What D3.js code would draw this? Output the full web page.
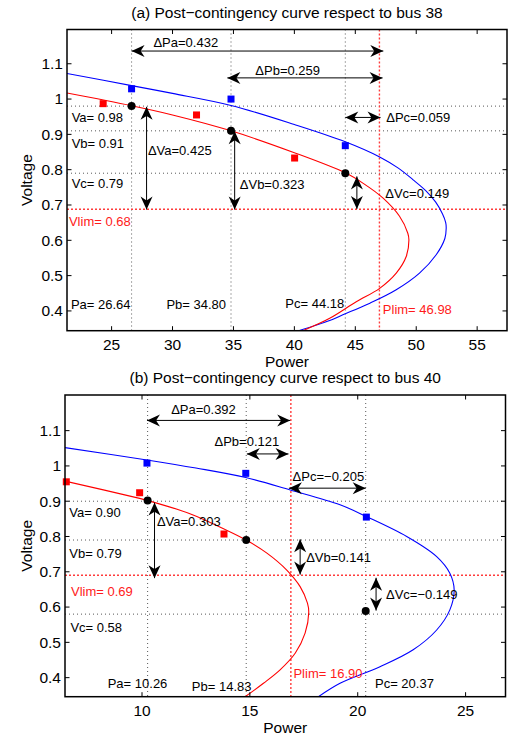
<!DOCTYPE html>
<html lang="en">
<head>
<meta charset="UTF-8">
<title>Post-contingency curves</title>
<script src="https://d3js.org/d3.v7.min.js"></script>
<style>
  body { margin: 0; background: #fff; }
  svg { display: block; font-family: "Liberation Sans", Arial, Helvetica, sans-serif; }
  .tick-label, .axis-title, .panel-title { font-size: 15.5px; fill: #000; }
  .note { font-size: 13px; fill: #000; }
  .note.lim { fill: #ff1a1a; }
</style>
</head>
<body>
<svg id="chart" width="514" height="735"></svg>
<script>
// ---------- shared ----------
const yTicks = [0.4, 0.5, 0.6, 0.7, 0.8, 0.9, 1, 1.1];

// ---------- panel (a): bus 38 ----------
const aTitle = '(a) Post\u2212contingency curve respect to bus 38';
const aXDomain = [21.34, 57.45];
const aYDomain = [0.344, 1.197];
const aXTicks = [25, 30, 35, 40, 45, 50, 55];
const aBlueCurve = [[21.34,1.0725],[26.64,1.038],[30,1.016],[34.8,0.982],[40,0.928],[44.18,0.879],[47.0,0.836],
  [48.5,0.805],[49.72,0.772],[50.8,0.74],[51.6,0.708],[52.15,0.675],[52.42,0.65],[52.46,0.634],[52.35,0.605],
  [51.64,0.559],[50.27,0.507],[48.36,0.460],[46.2,0.422],[43.98,0.389],[42.9,0.373],[40.35,0.344]];
const aRedCurve = [[21.34,1.017],[26.64,0.981],[30,0.955],[34.8,0.91],[40,0.848],[44.18,0.791],[45.62,0.762],
  [47.26,0.72],[48.63,0.668],[49.31,0.62],[49.4,0.601],[49.18,0.554],[48.36,0.507],[47.0,0.464],
  [45.08,0.426],[42.9,0.379],[40.7,0.344]];
const aBlueSquares = [[26.64,1.029],[34.8,1.0],[44.18,0.868]];
const aRedSquares = [[24.31,0.987],[31.97,0.955],[40.02,0.833]];
const aPoints = [[26.64,0.98],[34.8,0.91],[44.18,0.79]];
const aPLines = [26.64, 34.80, 44.18];
const aVLines = [0.98, 0.91, 0.79];
const aPlim = 46.98;
const aVlim = 0.688;
const aArrows = [
  [[26.64,1.136],[47.3,1.136]],
  [[34.5,1.060],[47.24,1.060]],
  [[44.18,0.948],[47.07,0.948]],
  [[27.87,0.978],[27.87,0.687]],
  [[35.1,0.909],[35.1,0.687]],
  [[45.13,0.781],[45.13,0.689]]
];
const aNotes = [
  { text: 'Va= 0.98', at: [21.72,0.947] },
  { text: 'Vb= 0.91', at: [21.72,0.874] },
  { text: 'Vc= 0.79', at: [21.72,0.760] },
  { text: 'Vlim= 0.68', at: [21.5,0.652], lim: true },
  { text: 'Pa= 26.64', at: [21.66,0.417] },
  { text: 'Pb= 34.80', at: [29.5,0.417] },
  { text: 'Pc= 44.18', at: [39.26,0.422] },
  { text: 'Plim= 46.98', at: [47.26,0.405], lim: true },
  { text: '\u0394Pa=0.432', at: [31.09,1.161], mid: true },
  { text: '\u0394Pb=0.259', at: [39.45,1.082], mid: true },
  { text: '\u0394Pc=0.059', at: [47.54,0.948] },
  { text: '\u0394Va=0.425', at: [27.98,0.855] },
  { text: '\u0394Vb=0.323', at: [35.52,0.757] },
  { text: '\u0394Vc=0.149', at: [47.46,0.732] }
];

// ---------- panel (b): bus 40 ----------
const bTitle = '(b) Post\u2212contingency curve respect to bus 40';
const bXDomain = [6.43, 26.85];
const bYDomain = [0.346, 1.201];
const bXTicks = [10, 15, 20, 25];
const bBlueCurve = [[6.43,1.052],[10.23,1.017],[12.5,0.994],[14.81,0.967],[16.87,0.932],[19.18,0.89],[20.42,0.856],
  [22.27,0.800],[23.66,0.743],[24.27,0.696],[24.47,0.649],[24.27,0.592],[23.66,0.535],[22.57,0.479],
  [21.03,0.431],[19.18,0.384],[18.18,0.346]];
const bRedCurve = [[6.43,0.957],[9.89,0.908],[10.26,0.902],[12.25,0.864],[13.78,0.822],[14.83,0.79],[15.79,0.753],
  [16.71,0.705],[17.33,0.658],[17.67,0.611],[17.73,0.585],[17.56,0.526],[17.1,0.469],[16.4,0.422],
  [15.63,0.384],[14.78,0.346]];
const bBlueSquares = [[10.23,1.008],[14.81,0.979],[20.40,0.855]];
const bRedSquares = [[6.49,0.955],[9.89,0.924],[13.8,0.807]];
const bPoints = [[10.26,0.902],[14.83,0.79],[20.37,0.589]];
const bPLines = [10.26, 14.83, 20.37];
const bVLines = [0.90, 0.79, 0.58];
const bPlim = 16.90;
const bVlim = 0.69;
const bArrows = [
  [[10.23,1.129],[16.87,1.129]],
  [[14.86,1.034],[16.79,1.034]],
  [[16.81,0.937],[20.37,0.937]],
  [[10.58,0.896],[10.58,0.682]],
  [[17.33,0.792],[17.33,0.692]],
  [[20.85,0.683],[20.85,0.590]]
];
const bNotes = [
  { text: 'Va= 0.90', at: [6.63,0.868] },
  { text: 'Vb= 0.79', at: [6.63,0.751] },
  { text: 'Vlim= 0.69', at: [6.71,0.644], lim: true },
  { text: 'Vc= 0.58', at: [6.68,0.542] },
  { text: 'Pa= 10.26', at: [8.41,0.384] },
  { text: 'Pb= 14.83', at: [12.31,0.375] },
  { text: 'Plim= 16.90', at: [17.02,0.413], lim: true },
  { text: 'Pc= 20.37', at: [20.80,0.384] },
  { text: '\u0394Pa=0.392', at: [12.85,1.159], mid: true },
  { text: '\u0394Pb=0.121', at: [14.86,1.070], mid: true },
  { text: '\u0394Pc=\u22120.205', at: [18.64,0.970], mid: true },
  { text: '\u0394Va=0.303', at: [10.69,0.842] },
  { text: '\u0394Vb=0.141', at: [17.61,0.741] },
  { text: '\u0394Vc=\u22120.149', at: [21.31,0.636] }
];

const svg = d3.select('#chart');
svg.append('rect').attr('width', 514).attr('height', 735).attr('fill', '#fff');

function arrowHead(g, tip, from) {
  const L = 13, W = 6;
  const ang = Math.atan2(tip[1] - from[1], tip[0] - from[0]);
  g.append('path')
    .attr('d', `M0,0 L${-L},${W} L${-L * 0.7},0 L${-L},${-W} Z`)
    .attr('transform', `translate(${tip[0]},${tip[1]}) rotate(${ang * 180 / Math.PI})`)
    .attr('fill', '#000');
}

function drawPanel(p) {
  const box = p.box;
  const x = d3.scaleLinear().domain(p.xDomain).range([box.left, box.right]);
  const y = d3.scaleLinear().domain(p.yDomain).range([box.bottom, box.top]);
  const g = svg.append('g');

  const clipId = 'clip-' + p.id;
  svg.append('clipPath').attr('id', clipId)
    .append('rect').attr('x', box.left).attr('y', box.top)
    .attr('width', box.right - box.left).attr('height', box.bottom - box.top);

  // reference lines
  const ref = g.append('g');
  p.pLines.forEach(v => {
    ref.append('line').attr('x1', x(v)).attr('x2', x(v)).attr('y1', box.top).attr('y2', box.bottom)
      .attr('stroke', '#444').attr('stroke-width', 0.9).attr('stroke-dasharray', '1,3');
  });
  p.vLines.forEach(v => {
    ref.append('line').attr('x1', box.left).attr('x2', box.right).attr('y1', y(v)).attr('y2', y(v))
      .attr('stroke', '#444').attr('stroke-width', 0.9).attr('stroke-dasharray', '1,3');
  });
  ref.append('line').attr('x1', x(p.plim)).attr('x2', x(p.plim)).attr('y1', box.top).attr('y2', box.bottom)
    .attr('stroke', '#ff3b3b').attr('stroke-width', 1.4).attr('stroke-dasharray', '2,2');
  ref.append('line').attr('x1', box.left).attr('x2', box.right).attr('y1', y(p.vlim)).attr('y2', y(p.vlim))
    .attr('stroke', '#ff3b3b').attr('stroke-width', 1.4).attr('stroke-dasharray', '2,2');

  // curves
  const line = d3.line().x(d => x(d[0])).y(d => y(d[1])).curve(d3.curveCatmullRom.alpha(0.5));
  const curves = g.append('g').attr('clip-path', `url(#${clipId})`);
  curves.append('path').attr('d', line(p.blue)).attr('fill', 'none').attr('stroke', '#0000ff').attr('stroke-width', 1.1);
  curves.append('path').attr('d', line(p.red)).attr('fill', 'none').attr('stroke', '#ff0000').attr('stroke-width', 1.1);

  // markers
  g.selectAll(null).data(p.blueSq).enter().append('rect')
    .attr('x', d => x(d[0]) - 3.5).attr('y', d => y(d[1]) - 3.5).attr('width', 7).attr('height', 7).attr('fill', '#0000ff');
  g.selectAll(null).data(p.redSq).enter().append('rect')
    .attr('x', d => x(d[0]) - 3.5).attr('y', d => y(d[1]) - 3.5).attr('width', 7).attr('height', 7).attr('fill', '#ff0000');
  g.selectAll(null).data(p.points).enter().append('circle')
    .attr('cx', d => x(d[0])).attr('cy', d => y(d[1])).attr('r', 4).attr('fill', '#000');

  // arrows
  const arr = g.append('g');
  p.arrows.forEach(a => {
    const s = [x(a[0][0]), y(a[0][1])], e = [x(a[1][0]), y(a[1][1])];
    arr.append('line').attr('x1', s[0]).attr('y1', s[1]).attr('x2', e[0]).attr('y2', e[1])
      .attr('stroke', '#000').attr('stroke-width', 1);
    arrowHead(arr, e, s);
    arrowHead(arr, s, e);
  });

  // notes
  g.selectAll(null).data(p.notes).enter().append('text')
    .attr('class', d => 'note' + (d.lim ? ' lim' : ''))
    .attr('x', d => x(d.at[0])).attr('y', d => y(d.at[1])).attr('dy', '0.35em')
    .attr('text-anchor', d => d.mid ? 'middle' : 'start')
    .text(d => d.text);

  // axes box and ticks (inward, on all four sides)
  const ax = g.append('g');
  p.xTicks.forEach(t => {
    ax.append('line').attr('x1', x(t)).attr('x2', x(t)).attr('y1', box.bottom).attr('y2', box.bottom - 4.5).attr('stroke', '#000');
    ax.append('line').attr('x1', x(t)).attr('x2', x(t)).attr('y1', box.top).attr('y2', box.top + 4.5).attr('stroke', '#000');
    ax.append('text').attr('class', 'tick-label').attr('x', x(t)).attr('y', box.bottom + 13.5)
      .attr('dy', '0.35em').attr('text-anchor', 'middle').text(t);
  });
  yTicks.forEach(t => {
    ax.append('line').attr('x1', box.left).attr('x2', box.left + 4.5).attr('y1', y(t)).attr('y2', y(t)).attr('stroke', '#000');
    ax.append('line').attr('x1', box.right).attr('x2', box.right - 4.5).attr('y1', y(t)).attr('y2', y(t)).attr('stroke', '#000');
    ax.append('text').attr('class', 'tick-label').attr('x', box.left - 4).attr('y', y(t))
      .attr('dy', '0.35em').attr('text-anchor', 'end').text(d3.format('~g')(t));
  });
  ax.append('rect').attr('x', box.left).attr('y', box.top)
    .attr('width', box.right - box.left).attr('height', box.bottom - box.top)
    .attr('fill', 'none').attr('stroke', '#000').attr('stroke-width', 1.5);

  // titles
  const cx = (box.left + box.right) / 2;
  g.append('text').attr('class', 'panel-title').attr('x', cx).attr('y', box.top - 17)
    .attr('dy', '0.35em').attr('text-anchor', 'middle').text(p.title);
  g.append('text').attr('class', 'axis-title').attr('x', cx).attr('y', box.bottom + 30.5)
    .attr('dy', '0.35em').attr('text-anchor', 'middle').text('Power');
  g.append('text').attr('class', 'axis-title')
    .attr('transform', `translate(27,${(box.top + box.bottom) / 2}) rotate(-90)`)
    .attr('dy', '0.35em').attr('text-anchor', 'middle').text('Voltage');
}

drawPanel({
  id: 'a', title: aTitle, box: { left: 67, right: 507, top: 29.5, bottom: 330.7 },
  xDomain: aXDomain, yDomain: aYDomain, xTicks: aXTicks,
  blue: aBlueCurve, red: aRedCurve, blueSq: aBlueSquares, redSq: aRedSquares, points: aPoints,
  pLines: aPLines, vLines: aVLines, plim: aPlim, vlim: aVlim, arrows: aArrows, notes: aNotes
});
drawPanel({
  id: 'b', title: bTitle, box: { left: 65, right: 505.5, top: 395, bottom: 696.7 },
  xDomain: bXDomain, yDomain: bYDomain, xTicks: bXTicks,
  blue: bBlueCurve, red: bRedCurve, blueSq: bBlueSquares, redSq: bRedSquares, points: bPoints,
  pLines: bPLines, vLines: bVLines, plim: bPlim, vlim: bVlim, arrows: bArrows, notes: bNotes
});
</script>
</body>
</html>
